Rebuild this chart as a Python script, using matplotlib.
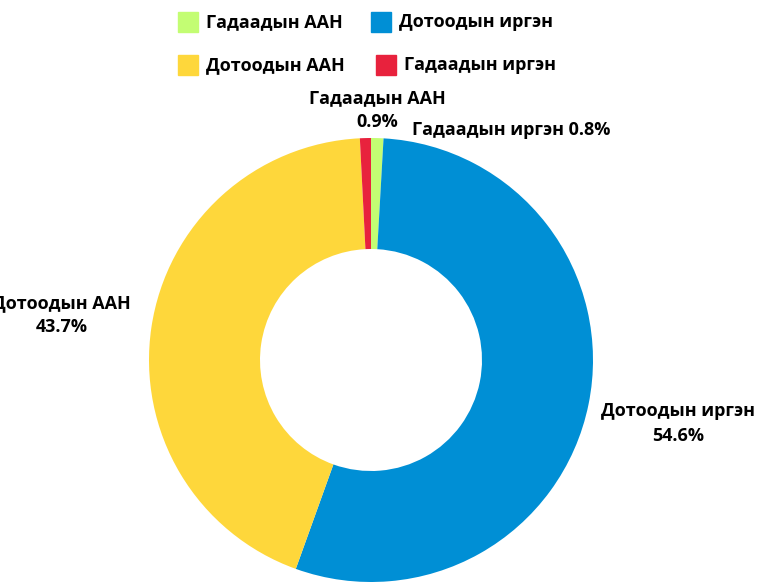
import numpy as np
import matplotlib.pyplot as plt
from matplotlib.patches import Rectangle

plt.rcParams['font.family'] = ['Open Sans', 'DejaVu Sans']

labels = ['Гадаадын ААН', 'Дотоодын иргэн', 'Дотоодын ААН', 'Гадаадын иргэн']
values = [0.9, 54.6, 43.7, 0.8]
colors = ['#c3fd73', '#008fd5', '#fed73b', '#e8223d']

W, H = 757, 582
cx, cy, R = 371, 360, 222

fig = plt.figure(figsize=(W / 100, H / 100), dpi=100)
ax = fig.add_axes([0, 0, 1, 1])

wedges, _ = ax.pie(values, colors=colors, startangle=90, counterclock=False,
                   radius=1, wedgeprops=dict(width=0.5, linewidth=0))
ax.set_aspect('equal')
ax.set_xlim(-cx / R, (W - cx) / R)
ax.set_ylim((cy - H) / R, cy / R)
ax.axis('off')

fs = 13
for i, w in enumerate(wedges):
    ang = np.deg2rad((w.theta1 + w.theta2) / 2)
    name, pct = labels[i], '%.1f%%' % values[i]
    if i == 0:
        ax.text(0.03, 1.126, name + '\n' + pct, ha='center', va='center',
                fontsize=fs, fontweight='bold', linespacing=1.45)
    elif i == 3:
        ax.text(0.185, 1.035, name + ' ' + pct, ha='left', va='center',
                fontsize=fs, fontweight='bold')
    else:
        r = 1.41
        ax.text(r * np.cos(ang), r * np.sin(ang) - 0.005, name + '\n' + pct,
                ha='center', va='center', fontsize=fs, fontweight='bold',
                linespacing=1.45)

# legend drawn in pixel coordinates
leg_rows = [[0, 1], [2, 3]]
leg_y = [22, 65]
leg_x = [[178, 371], [178, 376]]
for row, yy, xs in zip(leg_rows, leg_y, leg_x):
    for idx, x0 in zip(row, xs):
        fig.patches.append(Rectangle((x0 / W, 1 - (yy + 10) / H), 20 / W, 20 / H,
                                     transform=fig.transFigure, color=colors[idx]))
        fig.text((x0 + 28) / W, 1 - yy / H, labels[idx], ha='left', va='center',
                 fontsize=fs, fontweight='bold')

plt.savefig('out.png', dpi=100)
